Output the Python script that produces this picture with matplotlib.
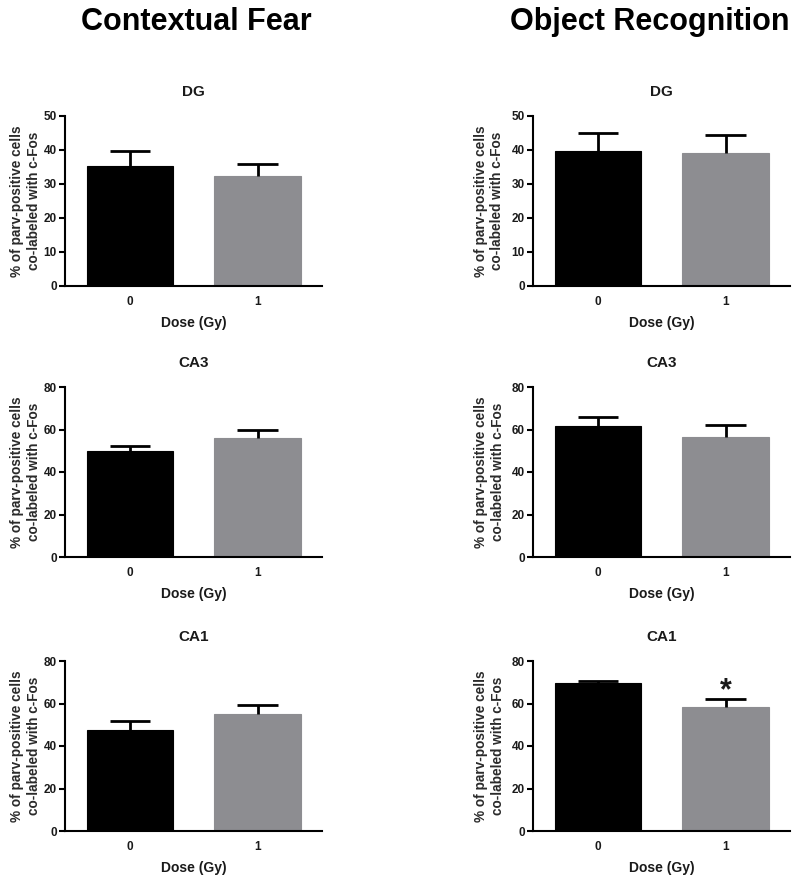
import matplotlib
matplotlib.use("Agg")
import matplotlib.pyplot as plt

plt.rcParams['font.family'] = ['Liberation Sans', 'DejaVu Sans']
plt.rcParams['font.weight'] = 'bold'

# ---- data ----
doses = ["0", "1"]
regions = ["DG", "CA3", "CA1"]
ymax_by_region = [50, 80, 80]
ytick_step = [10, 20, 20]

cf_means = [[35.3, 32.3], [49.7, 56.2], [47.7, 55.1]]
cf_errs = [[4.5, 3.7], [2.4, 3.7], [4.1, 4.4]]
or_means = [[39.6, 39.1], [61.5, 56.6], [69.5, 58.4]]
or_errs = [[5.4, 5.4], [4.2, 5.5], [0.9, 3.6]]
or_sig = [["", ""], ["", ""], ["", "*"]]
cf_sig = [["", ""], ["", ""], ["", ""]]

col_titles = ["Contextual Fear", "Object Recognition"]
bar_colors = ["#000000", "#8d8d91"]
ylabel = "% of parv-positive cells\nco-labeled with c-Fos"
xlabel = "Dose (Gy)"

W, H = 800, 885
fig = plt.figure(figsize=(W / 100, H / 100), dpi=100)

col_left = [65, 533]
ylabel_pad = [2, 5]
ax_w = 257
row_top = [116, 387, 661]
ax_h = 170
text_col = "#1a1a1a"

columns = [(cf_means, cf_errs, cf_sig), (or_means, or_errs, or_sig)]

for c, (means, errs, sigs) in enumerate(columns):
    for r, region in enumerate(regions):
        left = col_left[c]
        top = row_top[r]
        ax = fig.add_axes([left / W, (H - top - ax_h) / H, ax_w / W, ax_h / H])
        x = list(range(len(doses)))
        ax.bar(x, means[r], width=0.68, color=bar_colors, edgecolor=bar_colors,
               linewidth=0.8, zorder=2)
        tops = [m + e for m, e in zip(means[r], errs[r])]
        ax.vlines(x, means[r], tops, color="black", linewidth=2.0, zorder=3)
        ax.hlines(tops, [xi - 0.16 for xi in x], [xi + 0.16 for xi in x],
                  color="black", linewidth=2.0, zorder=3)
        for xi, t, s in zip(x, tops, sigs[r]):
            if s:
                ax.annotate(s, xy=(xi, t), xytext=(0, -5), textcoords="offset points",
                            ha="center", va="bottom", fontsize=22, fontweight="bold",
                            color=text_col)
        ax.set_xlim(-0.51, 1.505)
        ax.set_ylim(0, ymax_by_region[r])
        ax.set_yticks(range(0, ymax_by_region[r] + 1, ytick_step[r]))
        ax.set_xticks(x)
        ax.set_xticklabels(doses)
        for sp in ["top", "right"]:
            ax.spines[sp].set_visible(False)
        for sp in ["left", "bottom"]:
            ax.spines[sp].set_linewidth(1.5)
        ax.tick_params(axis="y", direction="out", length=4, width=1.5, pad=2,
                       labelsize=8.5, labelcolor=text_col)
        ax.tick_params(axis="x", length=0, pad=7, labelsize=8.5, labelcolor=text_col)
        for lab in ax.get_xticklabels() + ax.get_yticklabels():
            lab.set_fontweight("bold")
        ax.set_xlabel(xlabel, fontsize=10, fontweight="bold", color=text_col, labelpad=6)
        ax.set_ylabel(ylabel, fontsize=9.8, fontweight="bold", color="#2a2a2a",
                      labelpad=ylabel_pad[c], linespacing=1.25)
        ax.annotate(region, xy=(0.5, 1.0), xycoords="axes fraction", xytext=(0, 17),
                    textcoords="offset points", ha="center", va="center",
                    fontsize=11, fontweight="bold", color=text_col)

fig.text(196 / W, 1 - 22 / H, col_titles[0], ha="center", va="center",
         fontsize=22, fontweight="bold", color="black")
fig.text(650 / W, 1 - 22 / H, col_titles[1], ha="center", va="center",
         fontsize=22, fontweight="bold", color="black")

fig.savefig("out.png", dpi=100, facecolor="white")
